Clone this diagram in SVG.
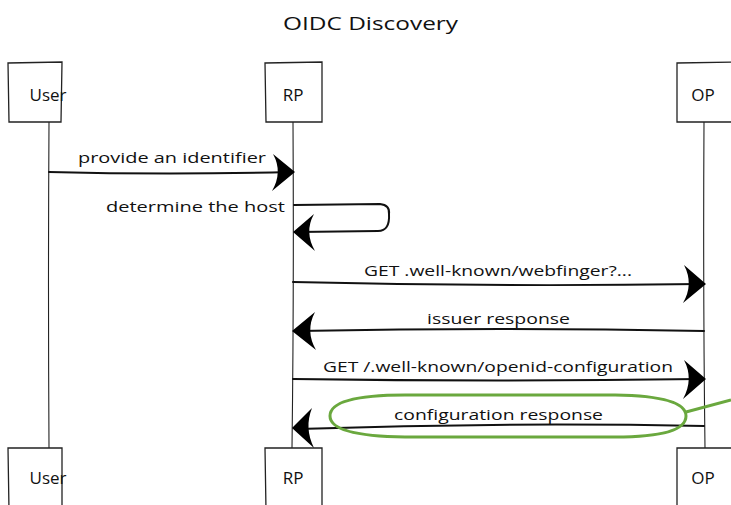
<svg xmlns="http://www.w3.org/2000/svg" width="731" height="505" viewBox="0 0 731 505">
  <style>
    .bg { fill: #ffffff; }
    .box { fill: #ffffff; stroke: #222; stroke-width: 1.3; }
    .life { fill: none; stroke: #222; stroke-width: 1.1; }
    .msg { fill: none; stroke: #111; stroke-width: 2; stroke-linecap: round; }
    .head { fill: #000; stroke: none; }
    .lbl { font-family: "Open Sans", "DejaVu Sans", sans-serif; font-size: 15px; fill: #111; }
    .name { font-family: "Open Sans", "DejaVu Sans", sans-serif; font-size: 17px; fill: #111; text-anchor: middle; }
    .title { font-family: "Open Sans", "DejaVu Sans", sans-serif; font-size: 19px; fill: #111; }
    .mark { fill: none; stroke: #6aa83e; stroke-width: 3; }
  </style>

  <rect class="bg" x="0" y="0" width="731" height="505"/>

  <text class="title" x="283" y="30" textLength="175" lengthAdjust="spacingAndGlyphs">OIDC Discovery</text>

  <!-- lifelines -->
  <g id="lifelines">
    <path class="life" d="M49,122 Q48,290 49,448"/>
    <path class="life" d="M293,122 Q294,290 292,448"/>
    <path class="life" d="M704,122 Q703,290 705,448"/>
  </g>

  <!-- participants, top -->
  <g id="user-top">
    <path class="box" d="M8,63 L62,62 L61,122 L9,122 Z"/>
    <text class="name" x="48" y="101">User</text>
  </g>
  <g id="rp-top">
    <path class="box" d="M265,63 L322,62 L322,122 L266,122 Z"/>
    <text class="name" x="293" y="101">RP</text>
  </g>
  <g id="op-top">
    <path class="box" d="M677,63 L735,62 L735,122 L677,122 Z"/>
    <text class="name" x="703" y="101">OP</text>
  </g>

  <!-- participants, bottom -->
  <g id="user-bottom">
    <path class="box" d="M8,448 L62,448 L62,510 L9,510 Z"/>
    <text class="name" x="48" y="484">User</text>
  </g>
  <g id="rp-bottom">
    <path class="box" d="M265,448 L322,448 L322,510 L266,510 Z"/>
    <text class="name" x="293" y="484">RP</text>
  </g>
  <g id="op-bottom">
    <path class="box" d="M677,448 L735,448 L735,510 L677,510 Z"/>
    <text class="name" x="703" y="484">OP</text>
  </g>

  <!-- messages -->
  <g id="connectors">
    <!-- provide an identifier -->
    <path class="msg" d="M49,172 Q170,175 290,172"/>
    <path class="head" d="M295,172 L273,154 Q283,172 272,191 Z"/>
    <text class="lbl" x="78" y="163" textLength="188" lengthAdjust="spacingAndGlyphs">provide an identifier</text>

    <!-- determine the host (self call) -->
    <path class="msg" d="M294,205 L380,204 Q390,205 389,214 Q390,231 378,231 L298,232"/>
    <path class="head" d="M293,232 L314,214 Q304,232 315,251 Z"/>
    <text class="lbl" x="106" y="212" textLength="179" lengthAdjust="spacingAndGlyphs">determine the host</text>

    <!-- GET .well-known/webfinger?... -->
    <path class="msg" d="M293,282 Q500,287 700,284"/>
    <path class="head" d="M706,284 L684,265 Q694,284 683,303 Z"/>
    <text class="lbl" x="364" y="276" textLength="268" lengthAdjust="spacingAndGlyphs">GET .well-known/webfinger?...</text>

    <!-- issuer response -->
    <path class="msg" d="M704,331 Q500,327 298,331"/>
    <path class="head" d="M292,331 L315,312 Q305,331 316,350 Z"/>
    <text class="lbl" x="427" y="324" textLength="143" lengthAdjust="spacingAndGlyphs">issuer response</text>

    <!-- GET /.well-known/openid-configuration -->
    <path class="msg" d="M293,379 Q500,382 700,379"/>
    <path class="head" d="M706,379 L684,360 Q694,379 683,399 Z"/>
    <text class="lbl" x="323" y="372" textLength="350" lengthAdjust="spacingAndGlyphs">GET /.well-known/openid-configuration</text>

    <!-- configuration response -->
    <path class="msg" d="M704,426 Q500,422 298,429"/>
    <path class="head" d="M292,428 L312,408 Q304,428 314,448 Z"/>
    <text class="lbl" x="394" y="420" textLength="209" lengthAdjust="spacingAndGlyphs">configuration response</text>
  </g>

  <!-- highlight around the last response -->
  <g id="highlight">
    <path class="mark" d="M405,395 L615,395 Q686,396 686,416 Q686,437 615,437 L405,437 Q330,436 330,416 Q330,395 405,395 Z"/>
    <path class="mark" d="M686,412 L731,400"/>
  </g>
</svg>
